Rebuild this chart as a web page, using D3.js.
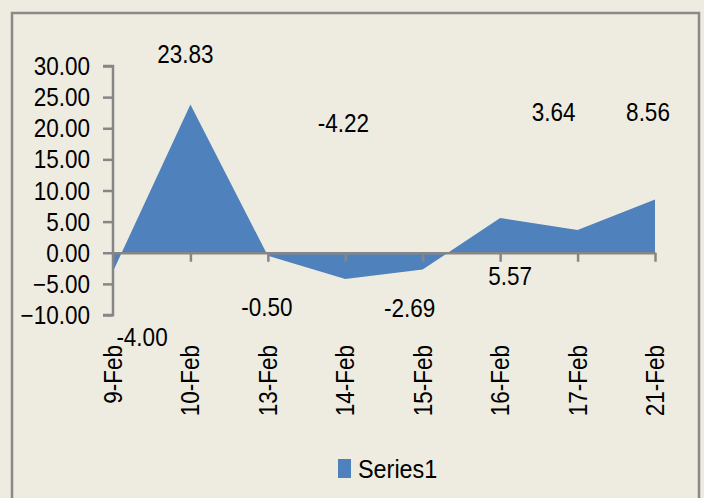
<!DOCTYPE html>
<html lang="en">
  <head>
    <meta charset="UTF-8" />
    <title>Series1</title>
    <style>
      body {
        margin: 0;
        background: #eeece1;
      }
      text {
        font-family: "Liberation Sans Narrow", "Liberation Sans", sans-serif;
        fill: #000;
      }
    </style>
  </head>
  <body>
    <div id="chart"></div>
    <script src="https://d3js.org/d3.v7.min.js"></script>
    <script>
      const categories = ["9-Feb", "10-Feb", "13-Feb", "14-Feb", "15-Feb", "16-Feb", "17-Feb", "21-Feb"];
      const values = [-3.0, 23.83, -0.5, -4.22, -2.69, 5.57, 3.64, 8.56];
      // labels as printed on the chart (they don't sit on their own points)
      const labelText = ["-4.00", "23.83", "-0.50", "-4.22", "-2.69", "5.57", "3.64", "8.56"];
      const yTicks = [-10, -5, 0, 5, 10, 15, 20, 25, 30];

      const width = 704;
      const height = 498;
      const squeeze = " scale(0.9,1)"; // the original font is narrower

      const svg = d3
        .select("#chart")
        .append("svg")
        .attr("width", width)
        .attr("height", height);

      svg
        .append("rect")
        .attr("width", width)
        .attr("height", height)
        .attr("fill", "#eeece1");

      // chart area border
      svg
        .append("rect")
        .attr("x", 12)
        .attr("y", 13)
        .attr("width", 687)
        .attr("height", 500)
        .attr("fill", "none")
        .attr("stroke", "#898989")
        .attr("stroke-width", 2.5);

      const x = d3.scalePoint().domain(categories).range([113, 655]);
      const y = d3.scaleLinear().domain([-10, 30]).range([315, 66]);

      const area = d3
        .area()
        .x((d, i) => x(categories[i]))
        .y0(y(0))
        .y1((d) => y(d));

      svg.append("path").datum(values).attr("d", area).attr("fill", "#4f81bd");

      // y axis
      const yAxis = svg
        .append("g")
        .attr("transform", "translate(" + x(categories[0]) + ",0)")
        .call(d3.axisLeft(y).tickValues(yTicks).tickSize(10).tickFormat(""));
      yAxis.select(".domain").attr("stroke", "#868686").attr("stroke-width", 2.5).attr("d", "M-10," + y(30) + "H0V" + y(-10) + "H-10");
      yAxis.selectAll(".tick line").attr("stroke", "#868686").attr("stroke-width", 2.5);

      svg
        .selectAll(".ylab")
        .data(yTicks)
        .enter()
        .append("text")
        .attr("class", "ylab")
        .attr("transform", (d) => "translate(90," + y(d) + ")" + squeeze)
        .attr("dy", "0.36em")
        .attr("text-anchor", "end")
        .attr("font-size", 25)
        .text(d3.format(".2f"));

      // x axis on zero line
      const xAxis = svg
        .append("g")
        .attr("transform", "translate(0," + y(0) + ")")
        .call(d3.axisBottom(x).tickSize(9).tickSizeOuter(0).tickFormat(""));
      xAxis.select(".domain").attr("stroke", "#868686").attr("stroke-width", 2.5);
      xAxis.selectAll(".tick line").attr("stroke", "#868686").attr("stroke-width", 2.5);

      // rotated category labels
      svg
        .selectAll(".cat")
        .data(categories)
        .enter()
        .append("text")
        .attr("class", "cat")
        .attr("transform", (d) => "translate(" + x(d) + ",345) rotate(-90)" + squeeze)
        .attr("dy", "0.36em")
        .attr("text-anchor", "end")
        .attr("font-size", 25)
        .text((d) => d);

      // data labels, offset like the original
      const labelOffsets = [
        [29, -4],
        [-5, -7],
        [-1, 5],
        [-2, -6],
        [-13, 6],
        [10, 7],
        [-24, -7],
        [-7, -7],
      ];
      const labelBase = [346, 63, 316, 132, 317, 285, 121, 121];

      svg
        .selectAll(".lbl")
        .data(labelText)
        .enter()
        .append("text")
        .attr("class", "lbl")
        .attr("transform", (d, i) => "translate(" + (x(categories[i]) + labelOffsets[i][0]) + "," + labelBase[i] + ")" + squeeze)
        .attr("text-anchor", "middle")
        .attr("font-size", 25)
        .text((d) => d);

      // legend
      const legend = svg.append("g").attr("transform", "translate(338,459)");
      legend.append("rect").attr("width", 13).attr("height", 19).attr("fill", "#4f81bd");
      legend
        .append("text")
        .attr("transform", "translate(20,19)" + squeeze)
        .attr("font-size", 26)
        .text("Series1");
    </script>
  </body>
</html>
